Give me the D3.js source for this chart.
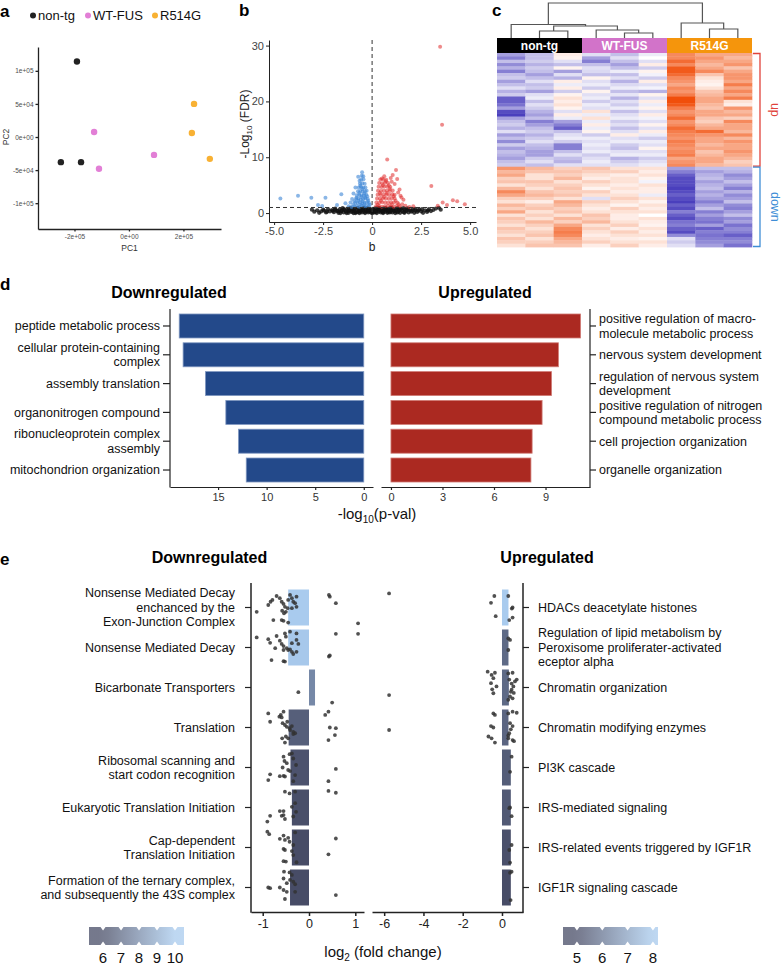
<!DOCTYPE html>
<html><head><meta charset="utf-8">
<script src="https://cdn.jsdelivr.net/npm/d3@7"></script>
<style>body{margin:0;background:#fff}</style>
</head><body>
<script>
const FONT = '"Liberation Sans", Arial, Helvetica, sans-serif';

// ---------- DATA ----------
// a: PCA
const pcaGroups = ["non-tg", "WT-FUS", "R514G"];
const pcaGroupColors = ["#222222", "#e27fd6", "#f8b133"];
const pcaSampleGroup = [0, 0, 0, 1, 1, 1, 2, 2, 2];
const pcaPC1 = [-1.91e5, -2.5e5, -1.76e5, -1.28e5, -1.1e5, 0.92e5, 2.39e5, 2.31e5, 2.97e5];
const pcaPC2 = [1.14e5, -3.8e4, -3.8e4, 7.6e3, -4.8e4, -2.7e4, 5.0e4, 6.0e3, -3.3e4];
const pcaXTicks = [-2e5, 0, 2e5];
const pcaXTickLabels = ["-2e+05", "0e+00", "2e+05"];
const pcaYTicks = [-1e5, -5e4, 0, 5e4, 1e5];
const pcaYTickLabels = ["-1e+05", "-5e+04", "0e+00", "5e+04", "1e+05"];

// b: volcano
const volcanoXTicks = [-5, -2.5, 0, 2.5, 5];
const volcanoXTickLabels = ["-5.0", "-2.5", "0", "2.5", "5.0"];
const volcanoYTicks = [0, 10, 20, 30];
const fdrThreshold = 1;
const volcanoNS = [
[-3.07,0.6],[-2.95,0.25],[-2.8,0.5],[-2.7,0.05],[-2.6,0.3],[-2.45,0.45],[-2.35,0.1],[-2.25,0.7],[-2.15,0.3],[-2.05,0.55],[-1.95,0.15],[-1.88,0.8],[-1.8,0.4],[-1.72,0.05],[-1.65,0.65],[-1.58,0.3],[-1.5,0.9],[-1.45,0.1],[-1.4,0.55],[-1.33,0.25],[-1.27,0.75],[-1.2,0.05],[-1.15,0.45],[-1.1,0.9],[-1.05,0.2],[-1.0,0.6],[-0.95,0.0],[-0.92,0.35],[-0.88,0.8],[-0.83,0.15],[-0.78,0.55],[-0.73,0.95],[-0.7,0.3],[-0.65,0.0],[-0.62,0.7],[-0.57,0.4],[-0.52,0.1],[-0.48,0.85],[-0.44,0.5],[-0.4,0.2],[-0.36,0.0],[-0.32,0.65],[-0.28,0.35],[-0.24,0.9],[-0.2,0.1],[-0.16,0.5],[-0.12,0.75],[-0.08,0.25],[-0.04,0.05],[-0.02,0.4],[0.02,0.0],[0.04,0.3],[0.08,0.6],[0.12,0.1],[0.16,0.85],[0.2,0.4],[0.24,0.0],[0.28,0.65],[0.32,0.25],[0.36,0.95],[0.4,0.5],[0.44,0.1],[0.48,0.75],[0.52,0.3],[0.56,0.0],[0.6,0.6],[0.65,0.2],[0.7,0.9],[0.74,0.45],[0.78,0.05],[0.83,0.7],[0.88,0.3],[0.93,0.95],[0.98,0.5],[1.03,0.1],[1.08,0.75],[1.13,0.35],[1.18,0.0],[1.23,0.6],[1.28,0.9],[1.33,0.25],[1.38,0.55],[1.43,0.05],[1.48,0.8],[1.53,0.4],[1.6,0.15],[1.66,0.65],[1.72,0.3],[1.8,0.85],[1.86,0.1],[1.93,0.5],[2.0,0.25],[2.08,0.7],[2.15,0.05],[2.22,0.45],[2.3,0.2],[2.4,0.6],[2.5,0.3],[2.6,0.05],[2.7,0.5],[2.8,0.2],[2.9,0.7],[3.0,0.35],[3.12,0.55],[3.25,0.8],[3.4,0.95],[3.5,0.6],
[-0.85,0.0],[-0.3,0.3],[0.3,0.5],[0.9,0.1],[-1.3,0.0],[1.6,0.9],[-0.6,0.25],[0.65,0.6],
[-1.45,0.7],[-1.0,0.3],[-0.5,0.65],[0.1,0.3],[0.45,0.45],[0.8,0.25],[1.2,0.3],[1.75,0.5],[2.2,0.75],[-2.5,0.6],[-1.75,0.35],[0.05,0.75],[-0.18,0.3],[0.6,0.85],[1.0,0.9],
[-1.62,0.0],[-1.22,0.35],[-0.95,0.75],[-0.75,0.15],[-0.42,0.95],[-0.1,0.6],[0.18,0.2],[0.34,0.75],[0.55,0.2],[0.72,0.7],[0.95,0.3],[1.1,0.55],[1.3,0.1],[1.45,0.6],[1.65,0.05],[1.85,0.65],[2.05,0.4],[2.35,0.45],[2.55,0.7],[2.85,0.45],[-2.0,0.4],[-2.3,0.25],[-1.9,0.6],[-1.55,0.5],[-1.18,0.8],[-0.66,0.5],[-0.22,0.55],[0.26,0.9],[0.86,0.55],[1.36,0.8]
];
const volcanoDown = [
[-0.9,1.2],[-0.78,1.25],[-0.66,1.15],[-0.54,1.3],[-0.42,1.2],[-0.3,1.25],[-0.18,1.2],
[-0.86,1.85],[-0.74,1.8],[-0.62,1.9],[-0.5,1.8],[-0.38,1.85],[-0.26,1.9],[-0.16,1.8],
[-0.82,2.5],[-0.7,2.55],[-0.58,2.45],[-0.46,2.5],[-0.34,2.6],[-0.22,2.5],
[-0.78,3.2],[-0.66,3.25],[-0.54,3.15],[-0.42,3.2],[-0.3,3.3],
[-0.72,3.9],[-0.6,3.95],[-0.48,3.85],[-0.36,3.9],[-0.28,4.0],
[-0.68,4.6],[-0.56,4.65],[-0.44,4.55],[-0.34,4.6],
[-0.62,5.3],[-0.5,5.35],[-0.38,5.25],
[-0.56,6.0],[-0.44,6.05],[-0.53,6.7],[-0.45,6.6],
[-0.71,6.5],[-0.51,7.3],[-1.02,2.5],[-0.8,2.75],[-1.36,1.74],[-1.1,1.9],[-1.79,1.44],[-2.55,1.26],[-2.76,1.44],[-4.68,2.6],[-3.78,3.1],[-3.1,2.75],[-2.38,2.75],[-1.57,3.35],[-1.2,1.2],[-1.05,1.1],[-0.95,3.5],[-0.85,4.6],[-0.64,5.8],[-0.96,1.5],[-0.12,1.5],[-0.2,2.2],[-0.25,3.0],[-0.9,2.1],[-0.6,1.5],[-0.4,1.6],[-0.48,2.1],[-0.7,2.2],[-0.36,2.8],[-0.55,2.9],[-0.65,3.6],[-0.4,3.5],[-0.5,4.3],[-0.6,4.9]
];
const volcanoUp = [
[0.2,1.2],[0.35,1.25],[0.5,1.15],[0.65,1.2],[0.8,1.3],[0.95,1.2],[1.1,1.15],[1.25,1.25],[1.4,1.2],
[0.22,1.9],[0.37,1.85],[0.52,1.95],[0.67,1.9],[0.82,1.85],[0.97,1.95],[1.12,1.9],[1.3,1.85],
[0.25,2.6],[0.4,2.55],[0.55,2.65],[0.7,2.6],[0.85,2.55],[1.0,2.65],[1.15,2.6],
[0.28,3.3],[0.43,3.25],[0.58,3.35],[0.73,3.3],[0.88,3.25],[1.03,3.35],[1.15,3.3],
[0.3,4.0],[0.45,3.95],[0.6,4.05],[0.75,4.0],[0.9,3.95],[1.05,4.05],
[0.33,4.7],[0.48,4.65],[0.63,4.75],[0.78,4.7],[0.93,4.65],
[0.36,5.4],[0.51,5.35],[0.66,5.45],[0.81,5.4],
[0.42,6.0],[0.57,6.05],[0.72,5.95],
[0.77,9.6],[1.22,7.7],[1.05,6.8],[1.28,6.1],[1.33,3.7],[1.54,1.6],[3.02,4.85],[3.6,1.9],[3.82,1.43],[4.12,2.3],[4.34,2.1],[4.73,1.6],[3.35,1.3],[3.47,29.8],[3.57,15.8],[0.62,6.6],[0.95,6.3],[1.5,2.8],[1.7,1.3],[1.9,1.1],[2.1,1.2],[0.28,1.5],[0.45,2.2],[0.6,2.9],[0.75,3.6],[0.9,4.3],[0.55,5.0],[0.7,5.7],[1.0,1.6],[1.2,2.2],[1.35,1.6],[0.4,3.6],[1.1,3.0],[0.85,5.0],[0.5,6.2],[1.15,5.2],[1.4,4.2],[1.0,5.6],[1.6,2.4],[1.45,3.1]
];

// c: heatmap (z-scores, columns: non-tg x3, WT-FUS x3, R514G x3)
const heatGroups = ["non-tg", "WT-FUS", "R514G"];
const heatGroupColors = ["#000000", "#d273c9", "#f5950c"];
const heatUpRows = [
[-1.5,-1,0.3,-0.5,-1,-0.3,2,1.5,1.5],[-2,-1,0.2,-1.5,-0.5,0,2,1.8,1.2],[-1,-0.8,-0.5,-2,-1,-0.5,2.5,1.5,1.5],[-1.8,-1.2,-1,-1,-1.5,0.3,2,1.2,1.8],
[-1.2,-0.8,0.2,-0.5,-1,-0.8,2.8,1.5,1],[-2,-1,-1.5,-0.6,-0.3,0.2,2.8,2,1.5],[-1,-1.5,-0.5,-1,-1,-0.2,2.5,1,1.8],[-0.8,-1,-1.2,0.2,-0.5,-0.8,2,0.5,1.8],
[-1.5,-0.5,0.3,-0.5,-1.2,0.3,1.8,0.3,1.5],[-1,-1,-0.3,-0.3,-0.6,-0.5,1.5,0.2,2.2],[-0.5,-0.8,0.3,-0.8,-0.3,-0.2,2,0.5,1.5],[-1.2,-1.5,-0.8,0.2,-1,-1.2,1.8,1,2],
[-0.8,-0.5,0.2,-0.5,-0.4,0.2,2.2,1.2,1.5],[-2.5,-0.3,0.5,-0.3,-1.2,-0.5,3,1.5,2.2],[-2.5,-1,0.3,-0.8,-0.5,0.3,3,1.5,0.5],[-2.2,-0.5,0.5,-0.3,-0.8,-0.3,2.8,1.2,0.3],
[-1.5,-0.8,0.2,-0.5,-0.3,0.2,2.2,1,1.8],[-2.8,-1.2,-0.5,0.5,-1,-0.5,1.8,1.5,1.2],[-3,-1.5,0.3,-0.3,-0.5,0.3,2,1.5,1.5],[-1.5,-1,-0.3,0.5,-0.3,-0.2,2.5,1,0.8],
[-1,-2,-1.5,-0.3,-0.8,-0.5,1.8,0.8,2],[-0.8,-1.5,-2,0.3,-0.5,0.2,2,1.2,1.5],[-1.2,-1,-2.5,-0.3,-1,-0.5,2.5,1.5,1.5],[-0.5,-0.8,-1,0.2,-0.5,0.3,2.2,2.5,1.2],
[-1.5,-1.2,-0.5,-0.8,0.3,-0.3,2,1.8,2],[-1,-0.8,-0.3,-0.3,-0.5,-0.8,1.8,1.5,1.2],[-1.8,-0.5,-0.8,-0.5,-0.3,-0.3,2.2,1.5,1.8],[-0.8,-1,-2,-0.3,-0.8,-0.5,2,1.2,1.5],
[-1.5,-1.2,-2,-0.5,-1,0.2,1.8,1.5,1.5],[-1,-1.5,-1,-0.3,-0.5,-0.5,2,1,1.8],[-1.2,-1.5,-0.5,-0.8,-0.3,-0.3,2.2,1.2,1.5],[-1.5,-0.8,-1,-0.5,-1.2,-0.8,1.5,1.5,1.2],
[-1,-0.5,-1.2,-0.3,-0.8,-0.5,1.8,1.5,0.8],[-0.8,-1,-0.5,-0.5,-0.5,-0.3,2,1.2,1]
];
const heatDownRows = [
[1.8,1.2,0.8,1,0.5,0.5,-1.5,-1,-1],[1.2,1,1,0.8,0.8,0.3,-2,-1.5,-1.2],[1.5,0.5,0.8,0.5,0.3,0.5,-2.5,-1.2,-1.8],[0.8,0.5,1.2,0.3,0.5,0.2,-2.8,-1,-1.5],
[1,1,0.5,0.8,0.5,-0.2,-2.8,-1.5,-1],[0.5,0.8,0.8,0.5,0.3,0.5,-2.8,-1.2,-1.5],[1.2,0.5,1,0.2,0.5,0.3,-3,-1,-2],[2,1,0.8,0.8,0.3,0.3,-2.8,-1.5,-1.2],
[1.5,1.2,1,0.5,0.5,-0.3,-2.5,-1.2,-1.8],[0.8,0.8,0.5,-0.5,0.8,0.5,-2.8,-1.5,-1.5],[0.5,0.3,1.5,0.8,0.5,0.2,-3,-2,-1],[1.2,0.8,1.2,0.5,0.2,0.5,-2.5,-1.5,-1.8],
[0.8,1,0.8,0.3,0.8,0.3,-2.8,-1,-2],[1.5,0.5,1,0.5,0.5,0.5,-2,-2,-1.5],[0.5,0.8,0.5,1,0.3,0,-2.5,-1.5,-1],[1,0.5,1.2,0.8,0.3,0.5,-2.8,-2,-1.8],
[0.8,1.2,0.8,1.2,0.5,0.3,-2.2,-2.2,-1.5],[0.5,0.8,1.5,0.5,0.8,0.2,-2,-1.5,-2.2],[1,0.5,2,0.8,0.3,0.5,-2.5,-2.5,-1.8],[0.8,0.8,2.2,0.5,0.8,0.3,-2.8,-2,-2],
[0.5,1,2,0.3,0.5,0.5,-1.8,-2.2,-2.5],[1,0.5,1.5,0.5,0.3,0.2,-0.5,-2,-2],[0.8,0.8,1.2,0.8,0.5,0.5,-0.8,-1.8,-1.8],[0.5,1,1,0.3,0.8,0.3,-0.5,-1.5,-2.2]
];
// dendrogram merges: [childA, childB, height]; leaves 0..8, new nodes 9..16
const dendroMerges = [[1,2,20],[4,5,14.3],[3,10,22.9],[9,11,34.3],[0,12,38.6],[7,8,25.7],[6,14,42.9],[13,15,100]];

// d: GO enrichment
const dDownTerms = ["peptide metabolic process","cellular protein-containing\ncomplex","assembly translation","organonitrogen compound","ribonucleoprotein complex\nassembly","mitochondrion organization"];
const dDownValues = [19.0, 18.6, 16.3, 14.2, 12.9, 12.1];
const dUpTerms = ["positive regulation of macro-\nmolecule metabolic process","nervous system development","regulation of nervous system\ndevelopment","positive regulation of nitrogen\ncompound metabolic process","cell projection organization","organelle organization"];
const dUpValues = [11.04, 9.75, 9.35, 8.8, 8.22, 8.15];
const dDownTicks = [15, 10, 5, 0];
const dUpTicks = [0, 3, 6, 9];

// e: pathway fold changes
const eDownTerms = ["Nonsense Mediated Decay\nenchanced by the\nExon-Junction Complex","Nonsense Mediated Decay","Bicarbonate Transporters","Translation","Ribosomal scanning and\nstart codon recognition","Eukaryotic Translation Initiation","Cap-dependent\nTranslation Initiation","Formation of the ternary complex,\nand subsequently the 43S complex"];
const eDownMeans = [-0.45, -0.45, 0.13, -0.44, -0.4, -0.37, -0.37, -0.41];
const eDownScore = [10, 9.9, 7.9, 6.6, 6.2, 6.1, 6.0, 6.0];
const eDownGenes = [
 [[-1.13,0.12],[-0.88,-0.07],[-0.83,-0.16],[-0.79,-0.21],[-0.70,-0.32],[-0.63,-0.26],[-0.59,-0.16],[-0.55,-0.10],[-0.52,-0.02],[-0.58,0.09],[-0.54,0.16],[-0.50,0.12],[-0.46,0.02],[-0.45,-0.21],[-0.41,-0.35],[-0.37,-0.26],[-0.34,-0.16],[-0.30,-0.12],[-0.27,-0.30],[-0.27,-0.02],[-0.37,0.02],[-0.77,0.35],[-0.59,0.35],[-0.55,0.37],[-0.45,0.42],[0.43,-0.35],[0.45,-0.30],[0.58,-0.12],[1.06,0.44]],
 [[-1.13,-0.28],[-0.88,-0.23],[-0.84,-0.13],[-0.73,0.02],[-0.70,-0.32],[-0.63,-0.19],[-0.59,-0.10],[-0.55,-0.04],[-0.55,0.07],[-0.52,-0.39],[-0.50,-0.30],[-0.48,0.02],[-0.45,0.07],[-0.41,0.05],[-0.37,0.12],[-0.41,-0.44],[-0.37,-0.12],[-0.27,-0.39],[-0.27,-0.21],[-0.23,-0.10],[-0.27,0.12],[-0.34,0.18],[-0.81,0.35],[-0.55,0.38],[-0.52,0.39],[0.58,-0.38],[1.06,-0.38],[0.43,0.25],[0.45,0.22]],
 [[-0.23,0.13],[0.50,0.42]],
 [[-0.88,-0.39],[-0.84,-0.16],[-0.64,-0.30],[-0.61,-0.35],[-0.59,-0.28],[-0.55,-0.44],[-0.57,-0.12],[-0.52,-0.07],[-0.48,-0.02],[-0.47,-0.16],[-0.42,0.02],[-0.41,0.07],[-0.37,-0.04],[-0.34,0.18],[-0.30,0.16],[-0.34,0.12],[-0.50,0.25],[-0.52,0.42],[-0.58,0.3],[-0.45,0.3],[0.35,-0.35],[0.42,-0.44],[0.45,0.0],[0.58,0.02],[0.56,0.21],[0.42,0.35]],
 [[-0.55,-0.30],[-0.42,-0.37],[-0.53,-0.18],[-0.48,-0.12],[-0.57,0.0],[-0.45,0.07],[-0.41,0.10],[-0.84,0.19],[-0.63,0.24],[-0.55,0.23],[-0.52,0.25],[-0.88,0.35],[-0.34,0.38],[-0.30,0.21],[-0.28,-0.07],[-0.34,-0.25],[-0.37,-0.39],[0.58,0.04],[0.42,0.38]],
 [[-0.52,-0.44],[-0.42,-0.39],[-0.30,-0.44],[-0.37,-0.02],[-0.30,-0.12],[-0.28,0.12],[-0.63,0.10],[-0.55,0.10],[-0.59,0.23],[-0.55,0.21],[-0.84,0.23],[-0.52,0.32],[-0.34,0.25],[-0.90,0.39],[0.42,-0.46],[0.58,-0.41]],
 [[-0.90,-0.44],[-0.86,-0.37],[-0.63,-0.24],[-0.55,-0.33],[-0.52,-0.21],[-0.45,-0.27],[-0.42,-0.16],[-0.30,-0.42],[-0.34,-0.07],[-0.37,0.10],[-0.55,0.04],[-0.52,0.07],[-0.34,0.21],[-0.55,0.38],[-0.50,0.39],[-0.27,0.41],[0.58,-0.25],[0.42,0.19]],
 [[-0.54,-0.44],[-0.42,-0.42],[-0.55,-0.25],[-0.41,-0.21],[-0.37,-0.35],[-0.34,-0.16],[-0.48,-0.12],[-0.30,-0.09],[-0.88,0.0],[-0.84,0.02],[-0.63,0.0],[-0.55,0.07],[-0.48,0.12],[-0.30,0.12],[-0.52,0.32],[0.58,0.21]]
];
const eUpTerms = ["HDACs deacetylate histones","Regulation of lipid metabolism by\nPeroxisome proliferater-activated\neceptor alpha","Chromatin organization","Chromatin modifying enzymes","PI3K cascade","IRS-mediated signaling","IRS-related events triggered by IGF1R","IGF1R signaling cascade"];
const eUpMeans = [0.33, 0.33, 0.35, 0.33, 0.45, 0.45, 0.45, 0.45];
const eUpScore = [8, 5.7, 5.7, 5.6, 5.4, 5.3, 5.1, 5.0];
const eUpGenes = [
 [[-5.75,-0.39],[-0.39,-0.32],[-0.56,-0.13],[-0.32,0.24],[0.32,-0.32],[0.54,0.0],[0.50,0.03],[0.37,0.35],[0.54,0.28]],
 [[0.32,-0.25],[0.41,-0.21],[0.32,0.07]],
 [[-5.75,0.21],[-0.73,-0.44],[-0.53,-0.35],[-0.36,-0.41],[-0.44,-0.26],[-0.56,-0.12],[-0.28,-0.03],[-0.44,0.16],[-0.5,0.05],[0.32,-0.39],[0.54,-0.41],[0.37,-0.22],[0.49,-0.11],[0.58,-0.03],[0.75,-0.22],[0.66,-0.17],[0.49,0.06],[0.41,0.25],[0.32,0.34],[0.54,0.30],[0.45,0.12],[0.6,0.15]],
 [[-5.75,0.07],[-0.44,-0.39],[-0.36,-0.35],[-0.56,-0.04],[-0.44,0.0],[-0.69,0.25],[-0.53,0.30],[-0.36,0.42],[0.32,-0.39],[0.54,-0.44],[0.75,-0.41],[0.41,-0.12],[0.54,-0.04],[0.32,0.22],[0.54,0.35],[0.61,0.38],[0.32,0.30],[0.37,0.16],[0.45,0.05]],
 [[0.49,-0.30],[0.41,0.12]],
 [[0.41,0.0],[0.49,0.24],[0.37,0.02]],
 [[0.49,-0.07],[0.37,0.07],[0.41,0.42]],
 [[0.49,-0.44],[0.41,-0.41],[0.44,0.35]]
];
const eDownLegendTicks = [6, 7, 8, 9, 10];
const eUpLegendTicks = [5, 6, 7, 8];
const eDownXTicks = [-1, 0, 1];
const eUpXTicks = [-6, -4, -2, 0];

// ---------- DRAW ----------
const LABEL_FS = 12.5, LABEL_LH = 14.5;
const svg = d3.select("body").append("svg").attr("width", 784).attr("height", 968)
  .style("font-family", FONT);
const hyphen = d => String(d).replace("\u2212", "-");

function styleAxis(g, fs, col, lw) {
  g.selectAll("text").attr("font-size", fs).attr("fill", col).attr("font-family", FONT);
  g.selectAll("line").attr("stroke", "#222").attr("stroke-width", lw || 1);
  g.select(".domain").attr("stroke", "#222").attr("stroke-width", lw || 1);
}
function letter(t, x, y) {
  svg.append("text").attr("x", x).attr("y", y).attr("font-size", 17).attr("font-weight", "bold").text(t);
}
function multiline(g, str, x, yc, lh, anchor, fs) {
  const lines = str.split("\n");
  const t = g.append("text").attr("text-anchor", anchor).attr("font-size", fs).attr("fill", "#111");
  lines.forEach((l, i) => t.append("tspan").attr("x", x).attr("y", yc + (i - (lines.length - 1) / 2) * lh).attr("dy", "0.35em").text(l));
}

letter("a", 0, 17); letter("b", 239, 16); letter("c", 492, 16); letter("d", 0, 290); letter("e", 0, 565);

// ---- panel a ----
{
  const x = d3.scaleLinear().domain([-3.34e5, 3.38e5]).range([38, 221]);
  const y = d3.scaleLinear().domain([-1.39e5, 1.36e5]).range([229, 47]);
  const gx = svg.append("g").attr("transform", "translate(0,229)")
    .call(d3.axisBottom(x).tickValues(pcaXTicks).tickFormat((d, i) => pcaXTickLabels[i]).tickSize(2.5).tickSizeOuter(0).tickPadding(3));
  styleAxis(gx, 6.5, "#4d4d4d", 1.3);
  const gy = svg.append("g").attr("transform", "translate(38,0)")
    .call(d3.axisLeft(y).tickValues(pcaYTicks).tickFormat((d, i) => pcaYTickLabels[i]).tickSize(2.5).tickSizeOuter(0).tickPadding(2));
  styleAxis(gy, 6.5, "#4d4d4d", 1.3);
  svg.append("g").selectAll("circle").data(pcaPC1).join("circle")
    .attr("cx", d => x(d)).attr("cy", (d, i) => y(pcaPC2[i])).attr("r", 3.2)
    .attr("fill", (d, i) => pcaGroupColors[pcaSampleGroup[i]]);
  svg.append("text").attr("x", 129.5).attr("y", 251).attr("text-anchor", "middle").attr("font-size", 8.5).attr("fill", "#333").text("PC1");
  svg.append("text").attr("transform", "translate(9,137) rotate(-90)").attr("text-anchor", "middle").attr("font-size", 8.5).attr("fill", "#333").text("PC2");
  const lx = [33, 88, 155];
  pcaGroups.forEach((gname, i) => {
    svg.append("circle").attr("cx", lx[i]).attr("cy", 15.5).attr("r", 3).attr("fill", pcaGroupColors[i]);
    svg.append("text").attr("x", lx[i] + 5).attr("y", 20).attr("font-size", 13).attr("fill", "#111").text(gname);
  });
}

// ---- panel b ----
{
  const x = d3.scaleLinear().domain([-5.26, 5.3]).range([269, 476]);
  const y = d3.scaleLinear().domain([-1.6, 31]).range([222, 40]);
  const gx = svg.append("g").attr("transform", "translate(0,222)")
    .call(d3.axisBottom(x).tickValues(volcanoXTicks).tickFormat((d, i) => volcanoXTickLabels[i]).tickSize(3).tickSizeOuter(0).tickPadding(2));
  styleAxis(gx, 11, "#444", 1);
  const gy = svg.append("g").attr("transform", "translate(269,0)")
    .call(d3.axisLeft(y).tickValues(volcanoYTicks).tickFormat(hyphen).tickSize(3).tickSizeOuter(0).tickPadding(2));
  styleAxis(gy, 11, "#444", 1);
  const pts = svg.append("g");
  pts.selectAll("circle.ns").data(volcanoNS).join("circle").attr("class", "ns")
    .attr("cx", d => x(d[0])).attr("cy", d => y(d[1])).attr("r", 2.1).attr("fill", "#111").attr("opacity", 0.8);
  pts.selectAll("circle.dn").data(volcanoDown).join("circle").attr("class", "dn")
    .attr("cx", d => x(d[0])).attr("cy", d => y(d[1])).attr("r", 2).attr("fill", "#3c86d6").attr("opacity", 0.6);
  pts.selectAll("circle.up").data(volcanoUp).join("circle").attr("class", "up")
    .attr("cx", d => x(d[0])).attr("cy", d => y(d[1])).attr("r", 2).attr("fill", "#e02a2a").attr("opacity", 0.55);
  svg.append("line").attr("x1", x(0)).attr("x2", x(0)).attr("y1", 40).attr("y2", 222)
    .attr("stroke", "#333").attr("stroke-dasharray", "4,3").attr("stroke-width", 1);
  svg.append("line").attr("x1", 269).attr("x2", 476).attr("y1", y(fdrThreshold)).attr("y2", y(fdrThreshold))
    .attr("stroke", "#333").attr("stroke-dasharray", "4,3").attr("stroke-width", 1);
  svg.append("text").attr("x", 372).attr("y", 251).attr("text-anchor", "middle").attr("font-size", 12).attr("fill", "#222").text("b");
  const yl = svg.append("text").attr("transform", "translate(249,124) rotate(-90)").attr("text-anchor", "middle").attr("font-size", 12).attr("fill", "#222");
  yl.append("tspan").text("-Log");
  yl.append("tspan").attr("font-size", 8).attr("dy", 3).text("10");
  yl.append("tspan").attr("dy", -3).text(" (FDR)");
}

// ---- panel c ----
{
  const rows = heatUpRows.concat(heatDownRows);
  const col = d3.scaleBand().domain(d3.range(9)).range([497, 752]);
  const row = d3.scaleBand().domain(d3.range(rows.length)).range([53, 247]);
  const color = d3.scaleLinear().domain([-3, 0, 3]).range(["#4a3fbd", "#ffffff", "#f14e0b"]).clamp(true);
  const g = svg.append("g");
  rows.forEach((r, i) => {
    g.selectAll(null).data(r).join("rect")
      .attr("x", (d, j) => col(j)).attr("y", row(i)).attr("width", col.bandwidth() + 0.3).attr("height", row.bandwidth() + 0.4)
      .attr("fill", d => color(d));
  });
  heatGroups.forEach((name, k) => {
    g.append("rect").attr("x", col(3 * k)).attr("y", 38).attr("width", col.bandwidth() * 3).attr("height", 15).attr("fill", heatGroupColors[k]);
    g.append("text").attr("x", col(3 * k + 1) + col.bandwidth() / 2).attr("y", 50).attr("text-anchor", "middle")
      .attr("font-size", 12).attr("font-weight", "bold").attr("fill", "#fff").text(name);
  });
  const hy = d3.scaleLinear().domain([0, 100]).range([38, 3]);
  const nodes = d3.range(9).map(j => ({ x: col(j) + col.bandwidth() / 2, h: 0 }));
  const dg = svg.append("g").attr("stroke", "#555").attr("stroke-width", 1.2).attr("fill", "none");
  dendroMerges.forEach(([a, b, h]) => {
    const A = nodes[a], B = nodes[b];
    dg.append("path").attr("d", `M${A.x},${hy(A.h)}V${hy(h)}H${B.x}V${hy(B.h)}`);
    nodes.push({ x: (A.x + B.x) / 2, h: h });
  });
  const nUp = heatUpRows.length;
  const br = [
    { y0: row(0), y1: row(nUp - 1) + row.bandwidth(), c: "#e0433b", t: "up" },
    { y0: row(nUp), y1: row(rows.length - 1) + row.bandwidth(), c: "#3f8ed6", t: "down" }
  ];
  br.forEach(b => {
    svg.append("path").attr("d", `M753,${b.y0 + 0.5}H760V${b.y1 - 0.5}H753`).attr("stroke", b.c).attr("stroke-width", 1.3).attr("fill", "none");
    svg.append("text").attr("transform", `translate(771,${(b.y0 + b.y1) / 2}) rotate(90)`).attr("text-anchor", "middle")
      .attr("font-size", 12.5).attr("fill", b.c).text(b.t);
  });
}

// ---- panel d ----
{
  const band = d3.scaleBand().domain(d3.range(6)).range([311.6, 484.4]).paddingInner(0.167).paddingOuter(0.083);
  const xl = d3.scaleLinear().domain([19.95, -0.95]).range([170, 373]);
  const g = svg.append("g");
  g.selectAll("rect.dn").data(dDownValues).join("rect").attr("class", "dn")
    .attr("x", d => xl(d)).attr("y", (d, i) => band(i)).attr("width", d => xl(0) - xl(d)).attr("height", band.bandwidth())
    .attr("fill", "#23498a").attr("stroke", "#7f97c0").attr("stroke-width", 0.8);
  const gx = svg.append("g").attr("transform", "translate(0,487)")
    .call(d3.axisBottom(xl).tickValues(dDownTicks).tickSize(3).tickSizeOuter(0).tickPadding(3));
  styleAxis(gx, 11, "#333", 1.2);
  svg.append("line").attr("x1", 170).attr("x2", 170).attr("y1", 309).attr("y2", 487.5).attr("stroke", "#222").attr("stroke-width", 1.2);
  dDownTerms.forEach((t, i) => {
    const yc = band(i) + band.bandwidth() / 2;
    svg.append("line").attr("x1", 163).attr("x2", 170).attr("y1", yc).attr("y2", yc).attr("stroke", "#222").attr("stroke-width", 1.2);
    multiline(svg, t, 160, yc, LABEL_LH, "end", LABEL_FS);
  });
  svg.append("text").attr("x", 169).attr("y", 298).attr("text-anchor", "middle").attr("font-size", 16).attr("font-weight", "bold").text("Downregulated");
  const xr = d3.scaleLinear().domain([-0.58, 11.59]).range([381, 590]);
  g.selectAll("rect.up").data(dUpValues).join("rect").attr("class", "up")
    .attr("x", xr(0)).attr("y", (d, i) => band(i)).attr("width", d => xr(d) - xr(0)).attr("height", band.bandwidth())
    .attr("fill", "#ab2921").attr("stroke", "#d07c76").attr("stroke-width", 0.8);
  const gx2 = svg.append("g").attr("transform", "translate(0,487)")
    .call(d3.axisBottom(xr).tickValues(dUpTicks).tickSize(3).tickSizeOuter(0).tickPadding(3));
  styleAxis(gx2, 11, "#333", 1.2);
  svg.append("line").attr("x1", 590).attr("x2", 590).attr("y1", 309).attr("y2", 487.5).attr("stroke", "#222").attr("stroke-width", 1.2);
  dUpTerms.forEach((t, i) => {
    const yc = band(i) + band.bandwidth() / 2;
    svg.append("line").attr("x1", 590).attr("x2", 596).attr("y1", yc).attr("y2", yc).attr("stroke", "#222").attr("stroke-width", 1.2);
    multiline(svg, t, 599, yc, LABEL_LH, "start", LABEL_FS);
  });
  svg.append("text").attr("x", 485).attr("y", 298).attr("text-anchor", "middle").attr("font-size", 16).attr("font-weight", "bold").text("Upregulated");
  const xt = svg.append("text").attr("x", 377).attr("y", 519).attr("text-anchor", "middle").attr("font-size", 15).attr("fill", "#111");
  xt.append("tspan").text("-log");
  xt.append("tspan").attr("font-size", 10).attr("dy", 4).text("10");
  xt.append("tspan").attr("dy", -4).text("(p-val)");
}

// ---- panel e ----
{
  const band = d3.scaleBand().domain(d3.range(8)).range([587.5, 907.5]).paddingInner(0.1).paddingOuter(0.05);
  const colL = d3.scaleLinear().domain([6, 10]).range(["#474c66", "#a9cbee"]).clamp(true);
  const colR = d3.scaleLinear().domain([5, 8]).range(["#474c66", "#a9cbee"]).clamp(true);
  const xl = d3.scaleLinear().domain([-1.253, 1.188]).range([251, 364]);
  svg.append("g").selectAll("rect").data(eDownMeans).join("rect")
    .attr("x", d => Math.min(xl(0), xl(d))).attr("y", (d, i) => band(i)).attr("width", d => Math.abs(xl(d) - xl(0)))
    .attr("height", band.bandwidth()).attr("fill", (d, i) => colL(eDownScore[i]));
  eDownGenes.forEach((arr, i) => {
    svg.append("g").selectAll("circle").data(arr).join("circle")
      .attr("cx", d => xl(d[0])).attr("cy", d => band(i) + band.bandwidth() / 2 + d[1] * band.bandwidth())
      .attr("r", 1.9).attr("fill", "#333").attr("opacity", 0.85);
  });
  const gx = svg.append("g").attr("transform", "translate(0,912)")
    .call(d3.axisBottom(xl).tickValues(eDownXTicks).tickFormat(hyphen).tickSize(4).tickSizeOuter(0).tickPadding(3));
  styleAxis(gx, 12.5, "#222", 1.5);
  svg.append("line").attr("x1", 251).attr("x2", 251).attr("y1", 583).attr("y2", 912.7).attr("stroke", "#222").attr("stroke-width", 1.5);
  eDownTerms.forEach((t, i) => {
    const yc = band(i) + band.bandwidth() / 2;
    svg.append("line").attr("x1", 245).attr("x2", 251).attr("y1", yc).attr("y2", yc).attr("stroke", "#222").attr("stroke-width", 1.2);
    multiline(svg, t, 235, yc, LABEL_LH, "end", LABEL_FS);
  });
  svg.append("text").attr("x", 209.5).attr("y", 563).attr("text-anchor", "middle").attr("font-size", 16).attr("font-weight", "bold").text("Downregulated");

  const xr = d3.scaleLinear().domain([-6.62, 1.07]).range([372, 523]);
  svg.append("g").selectAll("rect").data(eUpMeans).join("rect")
    .attr("x", xr(0)).attr("y", (d, i) => band(i)).attr("width", d => xr(d) - xr(0))
    .attr("height", band.bandwidth()).attr("fill", (d, i) => colR(eUpScore[i]));
  eUpGenes.forEach((arr, i) => {
    svg.append("g").selectAll("circle").data(arr).join("circle")
      .attr("cx", d => xr(d[0])).attr("cy", d => band(i) + band.bandwidth() / 2 + d[1] * band.bandwidth())
      .attr("r", 1.9).attr("fill", "#333").attr("opacity", 0.85);
  });
  const gx2 = svg.append("g").attr("transform", "translate(0,912)")
    .call(d3.axisBottom(xr).tickValues(eUpXTicks).tickFormat(hyphen).tickSize(4).tickSizeOuter(0).tickPadding(3));
  styleAxis(gx2, 12.5, "#222", 1.5);
  svg.append("line").attr("x1", 523).attr("x2", 523).attr("y1", 583).attr("y2", 912.7).attr("stroke", "#222").attr("stroke-width", 1.5);
  eUpTerms.forEach((t, i) => {
    const yc = band(i) + band.bandwidth() / 2;
    svg.append("line").attr("x1", 523).attr("x2", 529).attr("y1", yc).attr("y2", yc).attr("stroke", "#222").attr("stroke-width", 1.2);
    multiline(svg, t, 538, yc, LABEL_LH, "start", LABEL_FS);
  });
  svg.append("text").attr("x", 547).attr("y", 563).attr("text-anchor", "middle").attr("font-size", 16).attr("font-weight", "bold").text("Upregulated");

  const xt = svg.append("text").attr("x", 383).attr("y", 957).attr("text-anchor", "middle").attr("font-size", 15).attr("fill", "#111");
  xt.append("tspan").text("log");
  xt.append("tspan").attr("font-size", 10).attr("dy", 4).text("2");
  xt.append("tspan").attr("dy", -4).text(" (fold change)");

  const defs = svg.append("defs");
  function legend(id, x0, x1, dom, ticks, cscale) {
    const s = d3.scaleLinear().domain(dom).range([x0, x1]);
    const grad = defs.append("linearGradient").attr("id", id).attr("x1", "0%").attr("x2", "100%");
    d3.range(0, 1.0001, 0.1).forEach(f => {
      grad.append("stop").attr("offset", (f * 100) + "%").attr("stop-color", cscale(dom[0] + f * (dom[1] - dom[0])));
    });
    const y0 = 927, y1 = 945;
    let p = `M${x0},${y0}`;
    ticks.forEach(t => { const n = s(t); p += `L${n - 2.5},${y0}L${n},${y0 + 3.5}L${n + 2.5},${y0}`; });
    p += `L${x1},${y0}L${x1},${y1}`;
    ticks.slice().reverse().forEach(t => { const n = s(t); p += `L${n + 2.5},${y1}L${n},${y1 - 3.5}L${n - 2.5},${y1}`; });
    p += `L${x0},${y1}Z`;
    svg.append("path").attr("d", p).attr("fill", `url(#${id})`).attr("opacity", 0.75);
    ticks.forEach(t => {
      svg.append("text").attr("x", s(t)).attr("y", 963).attr("text-anchor", "middle").attr("font-size", 15).attr("fill", "#111").text(t);
    });
  }
  legend("gL", 89, 184, [5.22, 10.5], eDownLegendTicks, colL);
  legend("gR", 563, 658, [4.45, 8.2], eUpLegendTicks, colR);
}
</script>
</body></html>
